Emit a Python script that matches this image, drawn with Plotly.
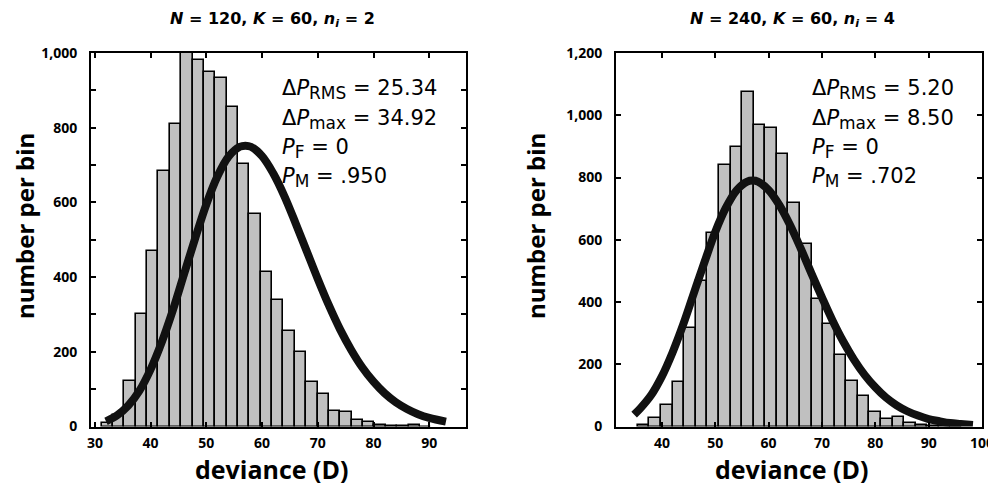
import plotly.graph_objects as go

# ---------------- data ----------------
# Left panel: N = 120, K = 60, n_i = 2
left_bin_start = 31.2
left_bin_width = 2.04
left_counts = [10, 32, 122, 300, 470, 685, 810, 1015, 980, 949, 934, 855, 703, 569,
               413, 339, 255, 200, 120, 88, 42, 39, 17, 12, 3, 1, 1, 4, 0]
left_curve_x = [32, 34, 36, 38, 40, 42, 44, 46, 48, 50, 52, 54, 56, 57, 58, 60, 62, 64,
                66, 68, 70, 72, 74, 76, 78, 80, 82, 84, 86, 88, 90, 93]
left_curve_y = [14, 30, 56, 96, 153, 226, 312, 408, 504, 595, 670, 723, 749, 752, 749,
                724, 678, 617, 545, 470, 395, 324, 260, 205, 158, 120, 89, 65, 47, 33, 23, 13]

# Right panel: N = 240, K = 60, n_i = 4
right_bin_start = 35.5
right_bin_width = 2.17
right_counts = [6, 28, 69, 144, 318, 467, 623, 841, 897, 1074, 970, 958, 874, 717,
                587, 411, 329, 231, 147, 99, 48, 24, 30, 12, 6, 3, 1, 0]
right_curve_x = [34.8, 36, 38, 40, 42, 44, 46, 48, 50, 52, 54, 56, 57, 58, 60, 62, 64,
                 66, 68, 70, 72, 74, 76, 78, 80, 82, 84, 86, 88, 90, 92, 94, 96, 98.3]
right_curve_y = [38, 59, 101, 161, 238, 328, 429, 529, 625, 703, 759, 787, 790, 787,
                 760, 712, 648, 573, 493, 415, 340, 273, 215, 166, 126, 93, 68, 49, 35,
                 24, 17, 11, 8, 5]

titles = ["<b><i>N</i> = 120, <i>K</i> = 60, <i>n<sub>i</sub></i> = 2</b>",
          "<b><i>N</i> = 240, <i>K</i> = 60, <i>n<sub>i</sub></i> = 4</b>"]
left_stats = ["25.34", "34.92", "0", ".950"]
right_stats = ["5.20", "8.50", "0", ".702"]

# ---------------- figure ----------------
W, H = 996, 497
FONT = "Open Sans"
WIDE = "DejaVu Sans"

def px_x(p):
    return p / W

def px_y(p):
    return 1 - p / H

fig = go.Figure()

def add_hist(start, width, counts, xa, ya):
    centers = [start + width * (i + 0.5) for i in range(len(counts))]
    fig.add_trace(go.Bar(
        x=centers, y=counts, width=[width] * len(counts),
        marker=dict(color="#c0c0c0", line=dict(color="black", width=1.6)),
        xaxis=xa, yaxis=ya, showlegend=False, hoverinfo="skip"))

def add_curve(xs, ys, xa, ya):
    fig.add_trace(go.Scatter(
        x=xs, y=ys, mode="lines", line=dict(color="#111111", width=8, shape="spline"),
        xaxis=xa, yaxis=ya, showlegend=False, hoverinfo="skip"))

add_hist(left_bin_start, left_bin_width, left_counts, "x", "y")
add_curve(left_curve_x, left_curve_y, "x", "y")
add_hist(right_bin_start, right_bin_width, right_counts, "x2", "y2")
add_curve(right_curve_x, right_curve_y, "x2", "y2")

ydom = [1 - 418.5 / H, 1 - 45 / H]
tickfont = dict(family=FONT, size=14, color="black", weight="bold")
axis_common = dict(showline=True, linecolor="black", linewidth=2, mirror="ticks",
                   ticks="inside", ticklen=5, tickwidth=1.5, tickcolor="black",
                   showgrid=False, zeroline=False, tickfont=tickfont, automargin=False)

fig.update_layout(
    width=W, height=H,
    margin=dict(l=0, r=0, t=0, b=0),
    paper_bgcolor="white", plot_bgcolor="white",
    bargap=0,
    xaxis=dict(domain=[83 / W, 458 / W], range=[29.3, 96.6], dtick=10, tick0=0,
               anchor="y", ticklabelstandoff=3, **axis_common),
    yaxis=dict(domain=ydom, range=[0, 1000], dtick=200, tickformat=",d", anchor="x",
               ticklabelstandoff=9,
               minor=dict(dtick=100, ticks="inside", ticklen=5, tickwidth=1.5, tickcolor="black"),
               **axis_common),
    xaxis2=dict(domain=[608 / W, 974 / W], range=[31.4, 100], dtick=10, tick0=0,
                anchor="y2", ticklabelstandoff=3, **axis_common),
    yaxis2=dict(domain=ydom, range=[0, 1200], dtick=200, tickformat=",d", anchor="x2",
                ticklabelstandoff=9, **axis_common),
)

ann = []
# titles
for cx, t in [(264, titles[0]), (784, titles[1])]:
    ann.append(dict(x=px_x(cx), y=px_y(11), xref="paper", yref="paper", text=t,
                    showarrow=False, xanchor="center", yanchor="middle",
                    font=dict(family=WIDE, size=16, color="black")))
# axis titles
for cx in (264, 784):
    ann.append(dict(x=px_x(cx), y=px_y(461), xref="paper", yref="paper",
                    text="<b>deviance (D)</b>", showarrow=False, xanchor="center",
                    yanchor="middle", font=dict(family=FONT, size=25, color="black")))
for cx in (16, 527):
    ann.append(dict(x=px_x(cx), y=px_y(218), xref="paper", yref="paper",
                    text="<b>number per bin</b>", showarrow=False, textangle=-90,
                    xanchor="center", yanchor="middle",
                    font=dict(family=FONT, size=24, color="black")))
# stats
def sub(s):
    return "<sub><span style='font-size:17px'>" + s + "</span></sub>"

labels = ["Δ<i>P</i>" + sub("RMS"), "Δ<i>P</i>" + sub("max"),
          "<i>P</i>" + sub("F"), "<i>P</i>" + sub("M")]
rows_y = [82, 111, 140, 169]
for x0, stats in [(272, left_stats), (802, right_stats)]:
    for lab, val, yy in zip(labels, stats, rows_y):
        ann.append(dict(x=px_x(x0), y=px_y(yy), xref="paper", yref="paper",
                        text=lab + " = " + val, showarrow=False, xanchor="left",
                        yanchor="middle", font=dict(family=WIDE, size=21, color="black")))
fig.update_layout(annotations=ann)

fig.write_html("out.html")
